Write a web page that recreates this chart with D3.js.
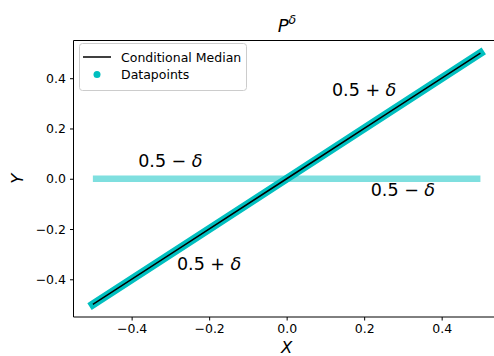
<!DOCTYPE html>
<html><head><meta charset="utf-8">
<script src="https://cdn.jsdelivr.net/npm/d3@7"></script>
<style>body{margin:0;background:#fff}svg{display:block;font-family:"DejaVu Sans",sans-serif}</style>
</head><body><svg id="c" width="494" height="356"></svg>
<script>
// Data
const xPoints = [-0.5, -0.25, 0, 0.25, 0.5];
const diagY = [-0.5, -0.25, 0, 0.25, 0.5];      // datapoints on the diagonal
const flatY = [0, 0, 0, 0, 0];                  // datapoints on the horizontal
const medianY = [-0.5, -0.25, 0, 0.25, 0.5];    // conditional median
const xTicks = [-0.4, -0.2, 0.0, 0.2, 0.4];
const yTicks = [-0.4, -0.2, 0.0, 0.2, 0.4];
const annotations = [
  {x: 0.20, y: 0.355, op: "+"},
  {x: -0.20, y: -0.34, op: "+"},
  {x: -0.30, y: 0.07, op: "−"},
  {x: 0.30, y: -0.045, op: "−"}
];

const svg = d3.select("#c");
const L = 73.5, R = 499.8, T = 40.5, B = 317;
const x = d3.scaleLinear().domain([-0.55, 0.55]).range([L, R]);
const y = d3.scaleLinear().domain([-0.55, 0.55]).range([B, T]);

const g = svg.append("g");
const line = d3.line().x(d => x(d[0])).y(d => y(d[1]));

g.append("path").datum(xPoints.map((v,i)=>[v, flatY[i]]))
  .attr("d", line).attr("fill","none").attr("stroke","#7fdfdf").attr("stroke-width",6.5);
g.append("path").datum(xPoints.map((v,i)=>[v, diagY[i]]))
  .attr("d", line).attr("fill","none").attr("stroke","#00bfbf").attr("stroke-width",8).attr("stroke-linecap","square");
g.append("path").datum(xPoints.map((v,i)=>[v, medianY[i]]))
  .attr("d", line).attr("fill","none").attr("stroke","#000").attr("stroke-width",1.5);

// spines
svg.append("path").attr("d",`M${L},${T}H${R}V${B}H${L}Z`).attr("fill","none").attr("stroke","#000").attr("stroke-width",1);

// axes
const xa = svg.append("g").attr("transform",`translate(0,${B})`)
  .call(d3.axisBottom(x).tickValues(xTicks).tickSize(3.5).tickPadding(4).tickFormat(d3.format(".1f")));
const ya = svg.append("g").attr("transform",`translate(${L},0)`)
  .call(d3.axisLeft(y).tickValues(yTicks).tickSize(3.5).tickPadding(4).tickFormat(d3.format(".1f")));
[xa, ya].forEach(a => {
  a.select(".domain").remove();
  a.selectAll("text").attr("font-family","DejaVu Sans").attr("font-size",12.5).attr("fill","#000");
  a.selectAll("line").attr("stroke","#000");
});

// annotations
annotations.forEach(a => {
  const t = svg.append("text").attr("x", x(a.x)).attr("y", y(a.y)).attr("text-anchor","middle")
    .attr("dominant-baseline","central").attr("font-size",17.5).attr("fill","#000");
  t.append("tspan").text("0.5 " + a.op + " ");
  t.append("tspan").attr("font-style","italic").text("δ");
});

// title
const tt = svg.append("text").attr("x",287).attr("y",32).attr("text-anchor","middle").attr("font-size",18);
tt.append("tspan").attr("font-style","italic").text("P");
tt.append("tspan").attr("font-style","italic").attr("font-size",12.5).attr("dy",-8).text("δ");

// axis labels
svg.append("text").attr("x", x(0)).attr("y", 353).attr("text-anchor","middle").attr("font-size",16.5).attr("font-style","italic").text("X");
svg.append("text").attr("transform",`translate(23,${y(0)}) rotate(-90)`).attr("text-anchor","middle").attr("font-size",16.5).attr("font-style","italic").text("Y");

// legend
const lg = svg.append("g");
lg.append("rect").attr("x",79.5).attr("y",43.5).attr("width",167).attr("height",47).attr("rx",3)
  .attr("fill","#fff").attr("fill-opacity",0.8).attr("stroke","#ccc");
lg.append("line").attr("x1",83).attr("x2",111).attr("y1",57).attr("y2",57).attr("stroke","#000").attr("stroke-width",1.5);
lg.append("text").attr("x",121).attr("y",57).attr("dominant-baseline","central").attr("font-size",12.5).text("Conditional Median");
lg.append("circle").attr("cx",97).attr("cy",74.5).attr("r",3.5).attr("fill","#00bfbf");
lg.append("text").attr("x",121).attr("y",74.5).attr("dominant-baseline","central").attr("font-size",12.5).text("Datapoints");
</script></body></html>
